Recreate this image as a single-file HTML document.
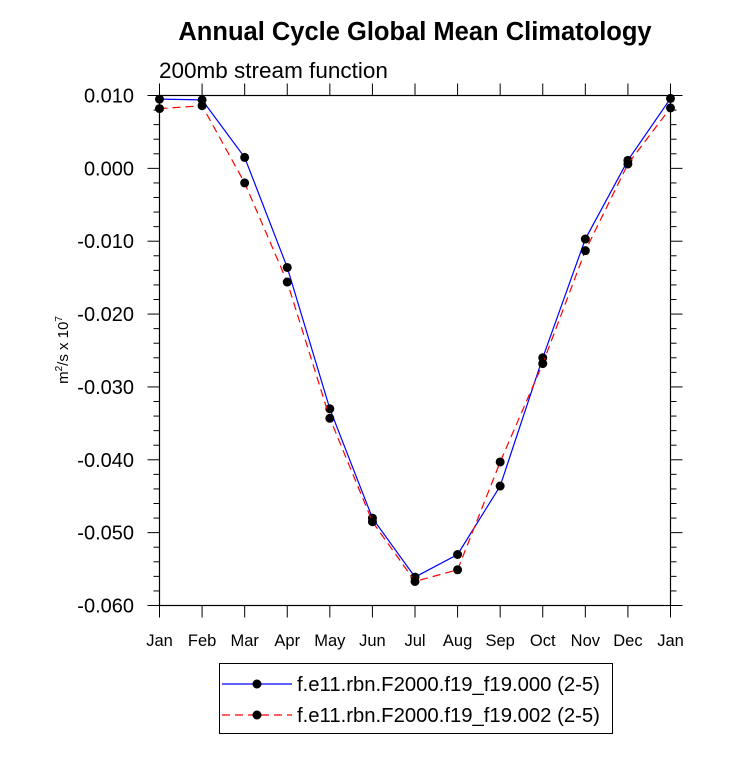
<!DOCTYPE html>
<html><head><meta charset="utf-8"><style>
body{margin:0;background:#fff;}
svg text{font-family:"Liberation Sans",Arial,sans-serif;}
</style></head><body>
<svg id="chart" width="733" height="754" viewBox="0 0 733 754" xmlns="http://www.w3.org/2000/svg">
<text x="415" y="40" text-anchor="middle" font-size="25.5" font-weight="bold">Annual Cycle Global Mean Climatology</text>
<text x="159" y="78" font-size="22.5">200mb stream function</text>
<text transform="translate(68,350) rotate(-90)" text-anchor="middle" font-size="15">m<tspan dy="-6" font-size="10">2</tspan><tspan dy="6">/s x 10</tspan><tspan dy="-6" font-size="10">7</tspan></text>
<g id="axes"></g>
<g id="series"></g>
<g>
<rect x="219.5" y="663.5" width="393" height="70" fill="none" stroke="#000" stroke-width="1"/>
<g>
<line x1="222" y1="684" x2="292" y2="684" stroke="#0000ff" stroke-width="1.2"/>
<circle cx="257" cy="684" r="4.5" fill="#000"/>
<text x="297" y="691" font-size="20.3">f.e11.rbn.F2000.f19_f19.000 (2-5)</text>
</g>
<g>
<line x1="222" y1="715" x2="292" y2="715" stroke="#ff0000" stroke-width="1.2" stroke-dasharray="8,5"/>
<circle cx="257" cy="715" r="4.5" fill="#000"/>
<text x="297" y="722" font-size="20.3">f.e11.rbn.F2000.f19_f19.002 (2-5)</text>
</g>
</g>
</svg>
<script>
const months=["Jan","Feb","Mar","Apr","May","Jun","Jul","Aug","Sep","Oct","Nov","Dec","Jan"];
const series000=[0.0095,0.0094,0.0015,-0.0136,-0.0330,-0.0480,-0.0561,-0.0530,-0.0436,-0.0260,-0.0097,0.0011,0.0096];
const series002=[0.0082,0.0086,-0.0020,-0.0156,-0.0343,-0.0485,-0.0567,-0.0551,-0.0403,-0.0268,-0.0113,0.0006,0.0083];
const yTicks=[0.010,0.000,-0.010,-0.020,-0.030,-0.040,-0.050,-0.060];
const yLabels=["0.010","0.000","-0.010","-0.020","-0.030","-0.040","-0.050","-0.060"];
const NS="http://www.w3.org/2000/svg";
const L=159.5,R=670.5,T=95.5,B=605.5;
const yMax=0.010,yMin=-0.060;
function xs(i){return L+(R-L)*i/(months.length-1);}
function ys(v){return T+(yMax-v)/(yMax-yMin)*(B-T);}
function mk(tag,attrs,parent){const e=document.createElementNS(NS,tag);for(const k in attrs)e.setAttribute(k,attrs[k]);parent.appendChild(e);return e;}
const ax=document.getElementById('axes');
const frame=mk('rect',{x:L,y:T,width:R-L,height:B-T,fill:'none',stroke:'#000','stroke-width':1.2},ax);


for(let v=-0.060;v<=0.0101;v+=0.002){
  const y=ys(v);const major=Math.abs(Math.round(v*1000)%10)<0.5;const len=major?12:6;
  mk('line',{x1:L-len,y1:y,x2:L,y2:y,stroke:'#000','stroke-width':1},ax);
  mk('line',{x1:R,y1:y,x2:R+len,y2:y,stroke:'#000','stroke-width':1},ax);
}
yTicks.forEach((v,i)=>{
  const t=mk('text',{x:134,y:ys(v)+7,'text-anchor':'end','font-size':20},ax);
  t.textContent=yLabels[i];
  
  
});
months.forEach((m,i)=>{
  const x=xs(i);
  mk('line',{x1:x,y1:B,x2:x,y2:B+12,stroke:'#000','stroke-width':1},ax);
  mk('line',{x1:x,y1:T-12,x2:x,y2:T,stroke:'#000','stroke-width':1},ax);
  const t=mk('text',{x:x,y:646,'text-anchor':'middle','font-size':16.5},ax);
  t.textContent=m;
  
  
});
const sg=document.getElementById('series');
function draw(data,color,dash,name){
  const g=mk('g',{},sg);
  
  
  const pts=data.map((v,i)=>xs(i)+','+ys(v)).join(' ');
  const a={points:pts,fill:'none',stroke:color,'stroke-width':1.2};
  if(dash)a['stroke-dasharray']=dash;
  mk('polyline',a,g);
  data.forEach((v,i)=>{
    const c=mk('circle',{cx:xs(i),cy:ys(v),r:4.5,fill:'#000'},g);
    
    
  });
}
draw(series000,'#0000ff',null,'series-000');
draw(series002,'#ff0000','8,5','series-002');
</script>
</body></html>
